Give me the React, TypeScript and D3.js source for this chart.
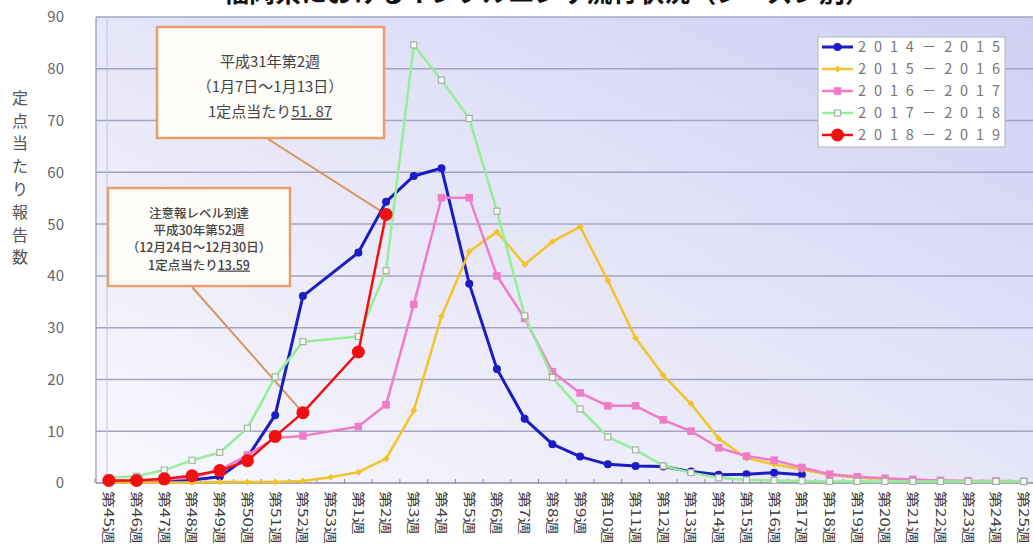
import React from 'react';
import * as d3 from 'd3';

const categories: string[] = [
  '第45週', '第46週', '第47週', '第48週', '第49週', '第50週', '第51週', '第52週', '第53週',
  '第1週', '第2週', '第3週', '第4週', '第5週', '第6週', '第7週', '第8週', '第9週', '第10週',
  '第11週', '第12週', '第13週', '第14週', '第15週', '第16週', '第17週', '第18週', '第19週',
  '第20週', '第21週', '第22週', '第23週', '第24週', '第25週',
];

const season2014: (number | null)[] = [
  0.3, 0.3, 0.4, 0.6, 1.2, 5.0, 13.1, 36.1, null,
  44.5, 54.3, 59.3, 60.8, 38.5, 22.0, 12.4, 7.5, 5.1, 3.6, 3.3, 3.2, 2.2, 1.6, 1.7, 2.0, 1.6,
  null, null, null, null, null, null, null, null,
];
const season2015: (number | null)[] = [
  0.1, 0.1, 0.1, 0.1, 0.2, 0.2, 0.2, 0.4, 1.1,
  2.1, 4.7, 14.0, 32.2, 44.7, 48.5, 42.2, 46.6, 49.5, 39.1, 28.0, 20.8, 15.3, 8.6, 4.8, 3.6, 2.6,
  1.6, 1.0, 0.8, 0.6, 0.5, 0.4, 0.3, 0.3,
];
const season2016: (number | null)[] = [
  0.4, 0.5, 0.7, 1.0, 2.5, 5.4, 8.7, 9.1, null,
  10.9, 15.1, 34.5, 55.1, 55.1, 40.0, 31.8, 21.5, 17.4, 14.9, 14.9, 12.2, 10.0, 6.8, 5.2, 4.4, 3.0,
  1.7, 1.2, 0.9, 0.7, 0.5, 0.4, 0.4, 0.3,
];
const season2017: (number | null)[] = [
  1.0, 1.3, 2.5, 4.4, 5.9, 10.6, 20.5, 27.3, null,
  28.3, 41.0, 84.6, 77.8, 70.4, 52.5, 32.3, 20.4, 14.3, 8.9, 6.4, 3.3, 2.0, 1.0, 0.6, 0.5, 0.4,
  0.3, 0.3, 0.3, 0.3, 0.3, 0.3, 0.3, 0.3,
];
const season2018: (number | null)[] = [
  0.5, 0.5, 0.8, 1.4, 2.4, 4.3, 9.0, 13.59, null,
  25.3, 51.87, null, null, null, null, null, null, null, null, null, null, null, null, null, null, null,
  null, null, null, null, null, null, null, null,
];

const seriesNames = ['2014－2015', '2015－2016', '2016－2017', '2017－2018', '2018－2019'];
const yTicks = [0, 10, 20, 30, 40, 50, 60, 70, 80, 90];
const titleText = '福岡県におけるインフルエンザ流行状況（シーズン別）';
const yTitle = '定点当たり報告数';
const note1 = ['平成31年第2週', '（1月7日～1月13日）', '1定点当たり', '51. 87'];
const note2 = ['注意報レベル到達', '平成30年第52週', '（12月24日～12月30日）', '1定点当たり', '13.59'];

type Marker = 'circle' | 'diamond' | 'square' | 'hsquare' | 'big';
const styles: { color: string; width: number; marker: Marker }[] = [
  { color: '#1c1cc4', width: 3, marker: 'circle' },
  { color: '#f2c42a', width: 2.5, marker: 'diamond' },
  { color: '#f07cc8', width: 2.5, marker: 'square' },
  { color: '#96ee96', width: 2.5, marker: 'hsquare' },
  { color: '#f01010', width: 2.5, marker: 'big' },
];
const allSeries = [season2014, season2015, season2016, season2017, season2018];

const FONT = '"Noto Sans CJK JP", "Noto Sans", sans-serif';

function drawMarker(kind: Marker, color: string, px: number, py: number, key: string) {
  if (kind === 'circle') return <circle key={key} cx={px} cy={py} r={4} fill={color} />;
  if (kind === 'big') return <circle key={key} cx={px} cy={py} r={6.5} fill={color} />;
  if (kind === 'diamond')
    return <path key={key} d={`M${px},${py - 3.5}L${px + 3.5},${py}L${px},${py + 3.5}L${px - 3.5},${py}Z`} fill={color} />;
  if (kind === 'square') return <rect key={key} x={px - 3.8} y={py - 3.8} width={7.6} height={7.6} fill={color} />;
  return <rect key={key} x={px - 3} y={py - 3} width={6} height={6} fill="#f6fff6" stroke="#a4b4a4" strokeWidth={1.2} />;
}

export default function App() {
  const W = 1033;
  const H = 547;
  const x = d3.scaleBand<string>().domain(categories).range([95, 1037.5]).padding(0);
  const y = d3.scaleLinear().domain([0, 90]).range([483, 17]);
  const cx = (i: number) => (x(categories[i]) as number) + x.bandwidth() / 2;
  const plotL = 96;
  const plotR = W;

  const line = d3
    .line<{ i: number; v: number }>()
    .x((d) => cx(d.i))
    .y((d) => y(d.v));

  const seriesPts = allSeries.map((s) =>
    s.map((v, i) => ({ i, v })).filter((d) => d.v !== null) as { i: number; v: number }[]
  );

  const boundaries = categories.map((c) => x(c) as number);

  return (
    <svg width={W} height={H} style={{ position: 'absolute', left: 0, top: 0, display: 'block', background: '#fff' }} fontFamily={FONT}>
      <defs>
        <linearGradient id="bg" x1="0" y1="1" x2="1" y2="0">
          <stop offset="0" stopColor="#f8f8fe" />
          <stop offset="0.5" stopColor="#e6e6f9" />
          <stop offset="1" stopColor="#cfcff3" />
        </linearGradient>
      </defs>
      <text x={547} y={2} textAnchor="middle" fontSize={26} fontWeight="bold" fill="#111">
        {titleText}
      </text>

      <rect x={plotL} y={y(90)} width={plotR - plotL} height={y(0) - y(90)} fill="url(#bg)" />
      {yTicks.filter((t) => t > 0).map((t) => (
        <line key={t} x1={plotL} x2={plotR} y1={y(t)} y2={y(t)} stroke="#a4a4c2" strokeWidth={1.5} />
      ))}
      <line x1={107} x2={107} y1={y(90)} y2={y(0)} stroke="#c4c4dc" strokeWidth={1} />
      <line x1={plotL} x2={plotL} y1={y(90)} y2={y(0)} stroke="#9a9ab0" strokeWidth={1.2} />
      <line x1={plotL} x2={plotR} y1={y(0)} y2={y(0)} stroke="#8a8aa8" strokeWidth={1.5} />
      {boundaries.map((b, i) => (
        <line key={i} x1={b} x2={b} y1={y(0) - 4} y2={y(0)} stroke="#8a8aa8" strokeWidth={1} />
      ))}

      {yTicks.map((t) => (
        <text key={t} x={64} y={y(t)} dy="0.36em" textAnchor="end" fontSize={15} fill="#666">
          {t}
        </text>
      ))}
      {yTitle.split('').map((ch, i) => (
        <text key={i} x={20} y={98 + i * 22.8} dy="0.36em" textAnchor="middle" fontSize={16} fill="#555">
          {ch}
        </text>
      ))}

      {categories.map((c, i) => (
        <text
          key={c}
          transform={`translate(${cx(i)},${491}) rotate(90) scale(1,0.75)`}
          dy="0.36em"
          textAnchor="start"
          fontSize={17}
          fill="#3a3a3a"
        >
          {c}
        </text>
      ))}

      {/* leader lines */}
      <line x1={268} y1={139} x2={cx(10)} y2={y(51.87)} stroke="#d8955e" strokeWidth={2} />
      <line x1={192} y1={287} x2={cx(7)} y2={y(13.59)} stroke="#d8955e" strokeWidth={2} />

      {seriesPts.map((pts, si) => (
        <g key={si}>
          <path d={line(pts) || ''} fill="none" stroke={styles[si].color} strokeWidth={styles[si].width} strokeLinejoin="round" />
          {pts.map((p, k) => drawMarker(styles[si].marker, styles[si].color, cx(p.i), y(p.v), `${si}-${k}`))}
        </g>
      ))}

      {/* annotation box 1 */}
      <rect x={157} y={27} width={227} height={111} fill="#fffdf9" stroke="#ec9c6a" strokeWidth={2.5} />
      <g fontSize={15} fill="#444" textAnchor="middle">
        <text x={270} y={62} dy="0.36em">{note1[0]}</text>
        <text x={270} y={87} dy="0.36em">{note1[1]}</text>
        <text x={270} y={112} dy="0.36em">
          {note1[2]}
          <tspan style={{ textDecoration: 'underline' }}>{note1[3]}</tspan>
        </text>
      </g>

      {/* annotation box 2 */}
      <rect x={108} y={188} width={182} height={98} fill="#fffdf9" stroke="#ec9c6a" strokeWidth={2.5} />
      <g fontSize={12.5} fill="#444" textAnchor="middle" fontWeight={500}>
        <text x={199} y={213} dy="0.36em">{note2[0]}</text>
        <text x={199} y={230} dy="0.36em">{note2[1]}</text>
        <text x={199} y={247} dy="0.36em">{note2[2]}</text>
        <text x={199} y={265} dy="0.36em">
          {note2[3]}
          <tspan style={{ textDecoration: 'underline' }}>{note2[4]}</tspan>
        </text>
      </g>

      {/* legend */}
      <rect x={818} y={37} width={187} height={110} fill="#ffffff" stroke="#bdbdc8" strokeWidth={1.2} />
      {seriesNames.map((n, i) => {
        const ly = 47 + i * 22;
        return (
          <g key={n}>
            <line x1={822} x2={853} y1={ly} y2={ly} stroke={styles[i].color} strokeWidth={styles[i].width} />
            {drawMarker(styles[i].marker, styles[i].color, 837.5, ly, `lg${i}`)}
            <text x={858} y={ly} dy="0.36em" fontSize={14.5} fill="#777" textLength={142} lengthAdjust="spacing">
              {n}
            </text>
          </g>
        );
      })}
    </svg>
  );
}
